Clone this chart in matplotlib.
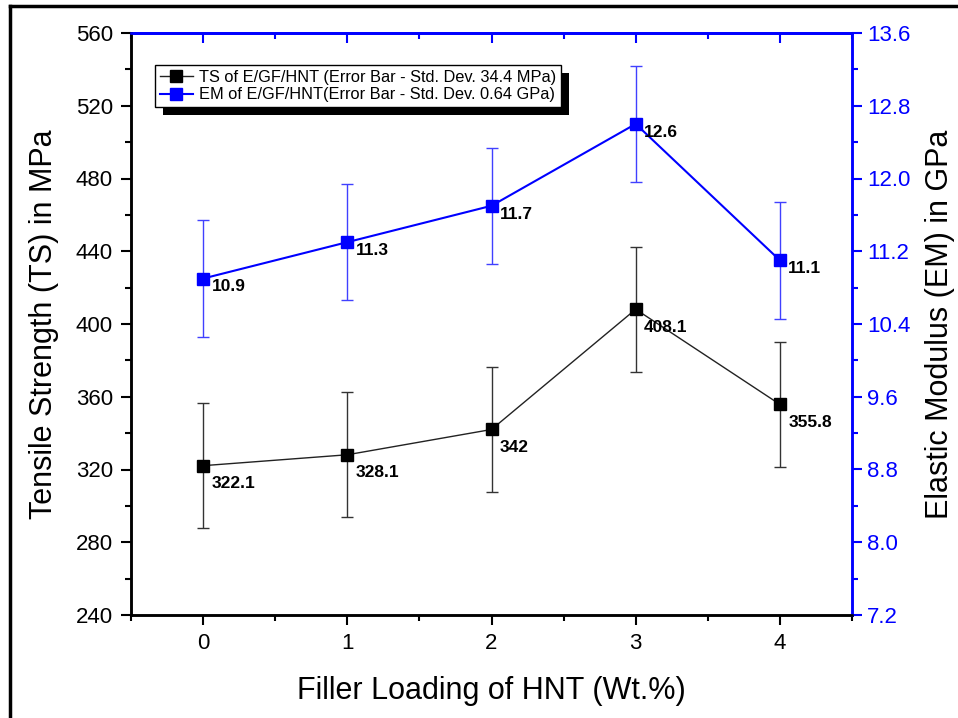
import matplotlib
matplotlib.use("Agg")
import matplotlib.pyplot as plt
from matplotlib.ticker import MultipleLocator, FormatStrFormatter, NullFormatter
from matplotlib.lines import Line2D
from matplotlib.patches import Rectangle

plt.rcParams['font.family'] = ['Liberation Sans', 'DejaVu Sans']

loading = [0, 1, 2, 3, 4]
ts_values = [322.1, 328.1, 342, 408.1, 355.8]
ts_err = 34.4
em_values = [10.9, 11.3, 11.7, 12.6, 11.1]
em_err = 0.64
ts_labels = ["322.1", "328.1", "342", "408.1", "355.8"]
em_labels = ["10.9", "11.3", "11.7", "12.6", "11.1"]
ts_name = 'TS of E/GF/HNT (Error Bar - Std. Dev. 34.4 MPa)'
em_name = 'EM of E/GF/HNT(Error Bar - Std. Dev. 0.64 GPa)'

W, H = 958, 718
fig = plt.figure(figsize=(W / 100, H / 100), dpi=100)
ax = fig.add_axes([131 / W, 1 - 615 / H, (852 - 131) / W, (615 - 33) / H])
ax2 = ax.twinx()

blue = '#0000ff'

ax.errorbar(loading, ts_values, yerr=ts_err, color='#222222', lw=1, marker='s',
            ms=8, mfc='black', mec='black', ecolor='#333333', elinewidth=1,
            capsize=4.5, capthick=1)
ax2.errorbar(loading, em_values, yerr=em_err, color=blue, lw=1.5, marker='s',
             ms=8, mfc=blue, mec=blue, ecolor='#4040ff', elinewidth=1,
             capsize=4.5, capthick=1)

for x, y, t in zip(loading, ts_values, ts_labels):
    ax.annotate(t, (x, y), xytext=(6, -13), textcoords='offset points',
                fontsize=12.5, fontweight='bold', ha='left', va='center')
for x, y, t in zip(loading, em_values, em_labels):
    ax2.annotate(t, (x, y), xytext=(6, -6), textcoords='offset points',
                 fontsize=12.5, fontweight='bold', ha='left', va='center')

ax.set_xlim(-0.5, 4.5)
ax.set_ylim(240, 560)
ax2.set_ylim(7.2, 13.6)
ax.xaxis.set_major_locator(MultipleLocator(1))
ax.xaxis.set_minor_locator(MultipleLocator(0.5))
ax.yaxis.set_major_locator(MultipleLocator(40))
ax.yaxis.set_minor_locator(MultipleLocator(20))
ax2.yaxis.set_major_locator(MultipleLocator(0.8))
ax2.yaxis.set_minor_locator(MultipleLocator(0.4))
ax2.yaxis.set_major_formatter(FormatStrFormatter('%.1f'))

ax.tick_params(axis='both', which='major', direction='out', length=7, width=1.5,
               labelsize=16, pad=6)
ax.tick_params(axis='both', which='minor', direction='out', length=4, width=1.5)
ax.tick_params(axis='x', which='both', top=False, labeltop=False)
ax2.tick_params(axis='y', which='major', direction='out', length=7, width=1.5,
                colors=blue, labelsize=16, pad=4)
ax2.tick_params(axis='y', which='minor', direction='out', length=4, width=1.5,
                colors=blue)

# top ticks: inward, blue
top = ax.secondary_xaxis('top')
top.xaxis.set_major_locator(MultipleLocator(1))
top.xaxis.set_minor_locator(MultipleLocator(0.5))
top.xaxis.set_major_formatter(NullFormatter())
top.tick_params(axis='x', which='both', direction='in', color=blue, width=1.5)
top.tick_params(axis='x', which='major', length=7)
top.tick_params(axis='x', which='minor', length=4)
top.spines['top'].set_color(blue)
top.spines['top'].set_linewidth(1.8)

for a in (ax, ax2):
    for s in a.spines.values():
        s.set_linewidth(1.8)
    a.spines['left'].set_color('black')
    a.spines['bottom'].set_color('black')
    a.spines['top'].set_color(blue)
    a.spines['right'].set_color(blue)

ax.set_xlabel('Filler Loading of HNT (Wt.%)', fontsize=22, labelpad=16)
ax.set_ylabel('Tensile Strength (TS) in MPa', fontsize=22, labelpad=12)
ax2.set_ylabel('Elastic Modulus (EM) in GPa', fontsize=22, labelpad=10, color='black')

handles = [Line2D([], [], color='#222222', lw=1, marker='s', ms=8, mfc='black', mec='black'),
           Line2D([], [], color=blue, lw=1.5, marker='s', ms=8, mfc=blue, mec=blue)]
leg = ax2.legend(handles, [ts_name, em_name], loc='upper left',
                 bbox_to_anchor=((155 - 131) / 721, 1 - (65 - 33) / 582),
                 borderaxespad=0, fontsize=11.8, frameon=True, fancybox=False,
                 framealpha=1, edgecolor='black', handlelength=2.0,
                 handletextpad=0.4, borderpad=0.3, labelspacing=0.15)
leg.get_frame().set_linewidth(1)
leg.set_zorder(10)

fig.canvas.draw()
bb = leg.get_window_extent().transformed(fig.transFigure.inverted())
off_x, off_y = 8 / W, 8 / H
shadow = Rectangle((bb.x0 + off_x, bb.y0 - off_y), bb.width, bb.height,
                   transform=fig.transFigure, facecolor='black', edgecolor='none',
                   zorder=9, clip_on=False)
ax2.add_artist(shadow)

fig.add_artist(Line2D([10 / W, 10 / W], [0, 1 - 6 / H], color='black', lw=2.5,
                      transform=fig.transFigure))
fig.add_artist(Line2D([10 / W, 1], [1 - 6 / H, 1 - 6 / H], color='black', lw=2.5,
                      transform=fig.transFigure))

fig.savefig('out.png', dpi=100, facecolor='white')
